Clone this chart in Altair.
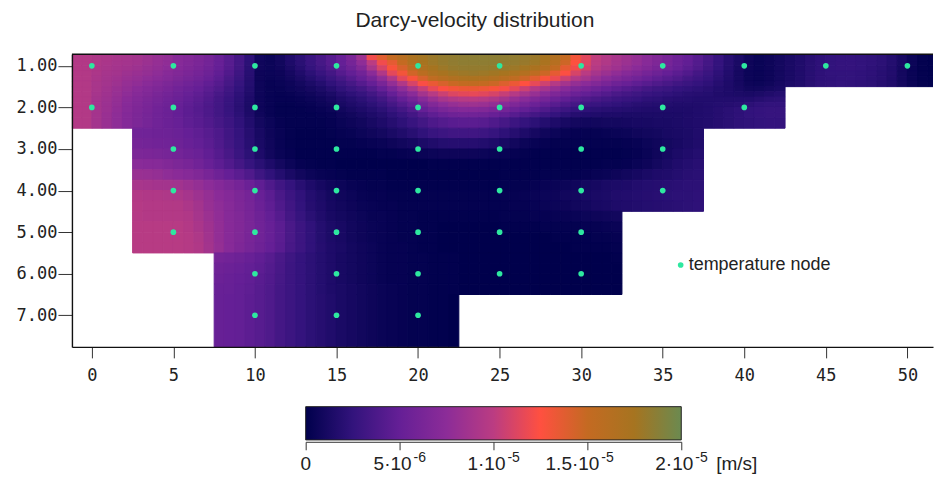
import altair as alt
import pandas as pd

TITLE = "Darcy-velocity distribution"
# value stops of the colour scale, in 1e-6 m/s
stops = [0, 2.5, 5, 7.5, 10, 12.5, 15, 17.5, 20]
colors = ["#00004c", "#32137c", "#651f96", "#8c2c98", "#bb3c82", "#ff5040", "#c46a22", "#a67420", "#6b8a50"]
x_ticks = [0, 5, 10, 15, 20, 25, 30, 35, 40, 45, 50]
y_ticks = [1, 2, 3, 4, 5, 6, 7]
node_columns = {
    1: [0, 5, 10, 15, 20, 25, 30, 35, 40, 45, 50],
    2: [0, 5, 10, 15, 20, 25, 30, 35, 40],
    3: [5, 10, 15, 20, 25, 30, 35],
    4: [5, 10, 15, 20, 25, 30, 35],
    5: [5, 10, 15, 20, 25, 30],
    6: [10, 15, 20, 25, 30],
    7: [10, 15, 20],
}
bar_ticks = [0, 5, 10, 15, 20]
bar_base = ["5·10", "1·10", "1.5·10", "2·10"]
bar_exp = ["-6", "-5", "-5", "-5"]
bar_label_at = [5, 10, 15, 20]
UNIT = "[m/s]"
KEY = "temperature node"

# estimated velocity (1e-6 m/s): (top, bottom, first column, values)
rows = [
 (.735,.875,0,[9.6,9.5, 9.3,9.2,9,8.9,8.7,8.4,8.1,7.8, 7.2,6.9,6.5,6,5.2,4.4,3.5,2.3, .9,.6,1,1.6,2.2,2.9,3.6,4.3, 5.2,6.4,8.4,12,13.8,15,16,17, 17.6,18,18.3,18.4,18.5,18.6,18.6,18.6, 18.5,18.4,18.2,18,17.5,16.6,15,13, 11.4,10.2,9.6,9,8.5,8,7.4,6.8, 6.2,5.6,5,4.3,3.6,2.8,2,1.4, .8,.5,.7,1,1.3,1.6,2,2.3, 2.5,2.6,2.6,2.5,2.4,2.2,1.8,1.2,.6,.2,.1,.1]),
 (.875,1,0,[9.6,9.5, 9.3,9.1,8.9,8.8,8.6,8.3,8,7.7, 7.1,6.8,6.4,5.9,5.1,4.3,3.4,2.2, .8,.6,.9,1.5,2.1,2.8,3.5,4.2, 5,6,7.6,10,12,13.6,15,16.4, 17.4,17.9,18.2,18.4,18.5,18.5,18.5,18.5, 18.4,18.3,18.1,17.8,17.2,16.2,14.6,12.6, 11.2,10,9.4,8.8,8.3,7.8,7.2,6.6, 6,5.4,4.8,4.1,3.4,2.6,1.9,1.3, .7,.5,.7,1,1.3,1.6,2,2.3, 2.5,2.6,2.6,2.5,2.4,2.2,1.8,1.2,.6,.2,.1,.1]),
 (1,1.125,0,[9.6,9.5, 9.2,9,8.8,8.6,8.4,8.1,7.8,7.5, 7,6.6,6.2,5.7,5,4.2,3.3,2.1, .8,.6,.8,1.3,1.9,2.6,3.2,3.9, 4.7,5.5,6.8,9,11,12.8,14.2,15.6, 16.8,17.5,17.9,18.2,18.3,18.3,18.3,18.2, 18.1,17.9,17.6,17.1,16.3,15.2,13.6,12, 10.8,9.7,9,8.5,7.9,7.4,6.8,6.2, 5.7,5.1,4.5,3.9,3.2,2.5,1.8,1.2, .7,.5,.7,1,1.3,1.6,2,2.3, 2.5,2.6,2.6,2.5,2.3,2.1,1.7,1.1,.5,.2,.1,.1]),
 (1.125,1.25,0,[9.6,9.5, 9.2,8.9,8.7,8.4,8.2,7.9,7.6,7.2, 6.8,6.4,6,5.5,4.8,4,3.1,2, .7,.6,.7,1.1,1.6,2.2,2.8,3.4, 4.2,4.9,5.8,7.4,9.4,11.5,13,14.5, 15.8,16.8,17.3,17.7,17.9,18,17.9,17.7, 17.4,17,16.4,15.6,14.7,13.6,12.4,11, 9.9,8.9,8.3,7.7,7.1,6.6,6,5.5, 5,4.5,4,3.4,2.9,2.3,1.7,1.1, .6,.5,.7,1,1.3,1.6,2,2.3, 2.5,2.5,2.5,2.4,2.3,2,1.7,1,.5,.2,.1,.1]),
 (1.25,1.375,0,[9.6,9.5, 9.1,8.8,8.5,8.2,7.9,7.6,7.3,6.9, 6.5,6.1,5.7,5.2,4.5,3.7,2.9,1.9, .7,.5,.6,.9,1.3,1.8,2.3,2.9, 3.5,4.2,5,6,7.6,9.4,11.4,12.8, 14.2,15.4,16.1,16.6,16.9,17,16.8,16.5, 16,15.4,14.6,13.8,12.8,11.8,10.6,9.6, 8.8,8,7.3,6.7,6.2,5.7,5.2,4.7, 4.3,3.9,3.4,3,2.6,2.1,1.6,1.1, .6,.5,.7,1,1.3,1.6,2,2.3, 2.4,2.5,2.5,2.4,2.2,2,1.6,1,.5,.2,.1,.1]),
 (1.375,1.5,0,[9.6,9.5, 9,8.7,8.4,8,7.7,7.3,6.9,6.5, 6.1,5.7,5.3,4.8,4.2,3.5,2.7,1.8, .7,.4,.5,.7,1,1.4,1.8,2.4, 2.9,3.5,4.2,5,6.2,7.8,9.4,11, 12.3,13.4,14.2,14.8,15.2,15.3,15.1,14.7, 14,13.3,12.5,11.6,10.7,9.7,8.8,7.9, 7.4,6.8,6.2,5.6,5.2,4.7,4.3,3.9, 3.6,3.2,2.9,2.6,2.3,1.9,1.5,1.1, .7,.6,.8,1.1,1.4,1.6,2,2.3, 2.4,2.5,2.4,2.3,2.2,1.9,1.6,1,.5,.2,.1,.1]),
 (1.5,1.625,0,[9.6,9.5, 9,8.6,8.2,7.8,7.4,7,6.6,6.2, 5.8,5.4,5,4.5,3.9,3.2,2.5,1.7, .7,.4,.4,.6,.8,1.1,1.4,1.9, 2.4,2.9,3.4,4.1,5,6.2,7.6,9, 10.4,11.6,12.4,13,13.3,13.4,13.2,12.8, 12.2,11.5,10.6,9.6,8.8,8,7.2,6.5, 6,5.5,5,4.6,4.2,3.8,3.4,3.1, 2.9,2.6,2.4,2.2,2,1.7,1.5,1.2, .9,.9,1.1,1.3]),
 (1.625,1.75,0,[9.6,9.5, 8.9,8.5,8.1,7.6,7.1,6.7,6.3,5.9, 5.5,5.1,4.7,4.2,3.6,3,2.3,1.6, .7,.4,.3,.4,.6,.8,1.1,1.4, 1.9,2.3,2.7,3.3,4,5,6.2,7.4, 8.7,9.8,10.6,11.2,11.5,11.6,11.4,11, 10.4,9.7,8.9,8.1,7.3,6.6,6,5.4, 4.9,4.5,4.1,3.7,3.4,3.1,2.8,2.6, 2.4,2.2,2,1.9,1.8,1.6,1.5,1.4, 1.3,1.4,1.6,1.8]),
 (1.75,1.875,0,[9.6,9.5, 8.8,8.4,7.9,7.4,6.9,6.5,6.1,5.7, 5.3,4.9,4.5,4,3.4,2.8,2.2,1.5, .7,.4,.3,.3,.4,.6,.8,1.1, 1.5,1.8,2.2,2.7,3.3,4.1,5,6, 7.2,8.2,9,9.5,9.8,9.9,9.7,9.3, 8.7,8,7.3,6.6,6,5.4,4.8,4.3, 3.9,3.6,3.3,3,2.8,2.6,2.3,2.2, 2,1.9,1.8,1.7,1.7,1.7,1.7,1.7, 1.7,1.9,2.1,2.2]),
 (1.875,2,0,[9.6,9.5, 8.8,8.3,7.8,7.2,6.7,6.3,5.9,5.5, 5.1,4.7,4.3,3.8,3.3,2.7,2.1,1.4, .7,.4,.2,.2,.3,.4,.6,.8, 1.2,1.5,1.8,2.2,2.7,3.4,4.1,4.9, 5.9,6.8,7.5,8,8.3,8.4,8.2,7.8, 7.2,6.6,6,5.4,4.8,4.3,3.8,3.4, 3,2.8,2.6,2.4,2.2,2,1.9,1.8, 1.7,1.6,1.6,1.6,1.7,1.8,1.9,2, 2.2,2.4,2.5,2.5]),
 (2,2.125,0,[9.6,9.5, 8.8,8.3,7.7,7.1,6.6,6.2,5.8,5.4, 5,4.6,4.2,3.8,3.3,2.7,2.1,1.4, .7,.4,.2,.2,.2,.3,.4,.6, .9,1.2,1.5,1.8,2.2,2.8,3.4,4.1, 5,5.7,6.3,6.7,7,7,6.8,6.4, 5.9,5.4,4.9,4.4,3.9,3.4,3,2.6, 2.3,2.1,2,1.9,1.8,1.7,1.6,1.6, 1.5,1.5,1.5,1.6,1.7,1.9,2.1,2.3, 2.5,2.6,2.7,2.7]),
 (2.125,2.25,0,[9.6,9.5, 8.8,8.2,7.6,7,6.5,6.1,5.7,5.4, 5,4.6,4.3,3.8,3.3,2.8,2.2,1.5, .8,.4,.2,.2,.2,.2,.3,.4, .7,.9,1.2,1.5,1.8,2.3,2.8,3.4, 4.1,4.7,5.2,5.6,5.8,5.8,5.6,5.2, 4.8,4.3,3.8,3.4,3,2.6,2.2,1.9, 1.7,1.6,1.5,1.5,1.4,1.4,1.4,1.4, 1.4,1.4,1.5,1.6,1.7,1.9,2.1,2.3, 2.5,2.6,2.7,2.7]),
 (2.25,2.5,0,[9.6,9.5, 8.8,8.2,7.6,7,6.5,6.1,5.7,5.4, 5.1,4.7,4.4,4,3.5,3,2.4,1.7, 1,.6,.3,.2,.2,.2,.2,.3, .5,.7,.9,1.2,1.5,1.9,2.3,2.8, 3.3,3.8,4.1,4.4,4.5,4.5,4.3,3.9, 3.5,3,2.6,2.2,1.8,1.5,1.2,1, .9,.9,1,1,1.1,1.2,1.2,1.3, 1.3,1.4,1.5,1.6,1.7,1.9,2.1,2.3, 2.4,2.5,2.6,2.6]),
 (2.5,2.75,6,[5.8,5.7,5.6,5.5, 5.3,5,4.7,4.3,3.8,3.2,2.6,1.9, 1.2,.7,.4,.2,.1,.1,.1,.2, .3,.4,.6,.8,1,1.3,1.6,2, 2.4,2.8,3,3.2,3.2,3.2,3,2.7, 2.3,1.9,1.5,1.1,.8,.6,.4,.3, .3,.3,.4,.5,.6,.8,.9,1, 1.2,1.3,1.4,1.6]),
 (2.75,3,6,[6,5.9,5.8,5.7, 5.5,5.2,4.9,4.5,3.9,3.3,2.7,2, 1.3,.8,.4,.2,.1,.1,.1,.1, .2,.2,.3,.4,.5,.7,.9,1.1, 1.4,1.6,1.8,1.9,1.9,1.9,1.7,1.5, 1.2,.9,.6,.4,.3,.2,.2,.2, .2,.2,.2,.2,.3,.4,.6,.8, 1,1.2,1.4,1.6]),
 (3,3.25,6,[6.5,6.4,6.3,6.1, 5.9,5.6,5.3,4.8,4.2,3.6,2.9,2.2, 1.5,.9,.5,.3,.1,.1,.1,.1, .1,.1,.1,.1,.2,.2,.3,.4, .5,.6,.7,.7,.7,.7,.6,.5, .4,.3,.2,.1,.1,.1,.1,.1, .1,.1,.1,.1,.2,.3,.5,.8, 1.1,1.4,1.6,1.8]),
 (3.25,3.5,6,[7.3,7.2,7.1,6.8, 6.5,6.2,5.8,5.2,4.6,4,3.4,2.7, 2.1,1.5,1,.6,.3,.2,.1,.1, 0,0,0,0,0,0,0,0, 0,.1,.1,.1,.1,.1,.1,.1, .1,.1,.1,.1,.1,.1,.1,.1, .1,.1,.2,.2,.3,.5,.7,1, 1.3,1.6,1.8,2]),
 (3.5,3.75,6,[8.2,8.1,7.9,7.6, 7.4,7.1,6.7,6.2,5.6,5,4.5,3.9, 3.1,2.4,1.8,1.3,.9,.6,.4,.3, .2,.1,.1,.1,.1,0,0,0, 0,0,0,0,0,0,0,0, .1,.1,.1,.1,.2,.2,.2,.2, .3,.4,.5,.7,.9,1.1,1.3,1.5, 1.6,1.8,2,2.1]),
 (3.75,4,6,[9,8.9,8.8,8.7, 8.6,8.3,7.9,7.5,7,6.5,6,5.4, 4.7,3.9,3.2,2.6,2,1.5,1.1,.8, .6,.4,.3,.2,.2,.1,.1,.1, .1,.1,.1,.1,.1,.1,.1,.1, .2,.2,.2,.3,.4,.5,.6,.8, 1,1.1,1.3,1.4,1.5,1.7,1.8,1.9, 2,2.1,2.2,2.2]),
 (4,4.25,6,[9.5,9.4,9.4,9.3, 9.2,8.9,8.4,7.9,7.4,7,6.5,6, 5.2,4.5,3.7,3,2.4,1.8,1.4,1, .8,.6,.4,.3,.3,.2,.2,.2, .2,.2,.2,.2,.2,.2,.2,.2, .3,.3,.4,.5,.6,.7,.9,1, 1.2,1.3,1.4,1.6,1.7,1.8,1.9,2, 2.1,2.2,2.2,2.3]),
 (4.25,4.5,6,[9.7,9.6,9.6,9.5, 9.5,9.2,8.7,8.1,7.6,7.1,6.6,6.1, 5.4,4.7,3.9,3.2,2.5,1.9,1.5,1.1, .9,.7,.5,.4,.3,.3,.2,.2, .2,.2,.2,.2,.2,.2,.2,.2, .2,.3,.3,.4,.5,.6,.7,.9, 1,1.2,1.3,1.5,1.6,1.7,1.8,1.9, 2,2.1,2.2,2.3]),
 (4.5,4.75,6,[9.7,9.6,9.6,9.6, 9.6,9.4,8.9,8.3,7.7,7.1,6.7,6.2, 5.6,4.9,4.2,3.4,2.7,2.1,1.6,1.2, 1,.8,.6,.4,.4,.3,.2,.2, .1,.1,.1,.1,.1,.1,.1,.1, .2,.2,.2,.3,.3,.4,.4,.5, .6,.7,.8,.9]),
 (4.75,5,6,[9.8,9.8,9.8,9.8, 9.8,9.6,9.1,8.5,7.8,7.2,6.8,6.3, 5.7,5.1,4.5,3.7,3,2.4,1.8,1.4, 1.2,.9,.7,.5,.4,.3,.2,.2, .1,.1,0,0,0,0,0,0, .1,.1,.1,.1,.2,.2,.2,.2, .3,.3,.4,.5]),
 (5,5.25,6,[9.8,9.8,9.8,9.8, 9.8,9.7,9.3,8.6,7.8,7.2,6.7,6.2, 5.7,5.1,4.5,3.7,3,2.4,1.8,1.4, 1.2,.9,.7,.5,.4,.3,.2,.2, .1,.1,0,0,0,0,0,0, 0,0,0,0,0,.1,.1,.1, .1,.2,.2,.3]),
 (5.25,5.5,6,[9.8,9.8,9.8,9.8, 9.8,9.7,9.4,8.7,7.9,7.2,6.6,6.1, 5.6,5,4.4,3.6,3,2.4,1.9,1.5, 1.3,1,.8,.6,.4,.3,.3,.2, .1,.1,0,0,0,0,0,0, 0,0,0,0,0,0,0,.1, .1,.1,.1,.2]),
 (5.5,5.75,14,[6,5.8,5.5,5.2, 4.8,4.3,3.7,3.1,2.6,2.2,1.8,1.5, 1.2,1,.8,.6,.4,.3,.3,.2, .2,.1,.1,.1,0,0,0,0, 0,0,0,0,0,0,0,0, 0,0,0,.1]),
 (5.75,6,14,[5.6,5.4,5.2,4.9, 4.6,4.1,3.6,3,2.6,2.2,1.8,1.5, 1.2,1,.8,.6,.4,.3,.3,.2, .2,.1,.1,.1,0,0,0,0, 0,0,0,0,0,0,0,0, 0,0,0,0]),
 (6,6.25,14,[5.4,5.2,5,4.8, 4.4,4,3.5,3,2.6,2.2,1.8,1.5, 1.2,1,.8,.6,.4,.3,.3,.2, .2,.1,.1,.1,0,0,0,0, 0,0,0,0,0,0,0,0, 0,0,0,0]),
 (6.25,6.5,14,[5.2,5.1,4.9,4.7, 4.3,3.9,3.4,3,2.6,2.2,1.8,1.5, 1.3,1.1,.9,.7,.5,.4,.3,.2, .2,.1,.1,.1,0,0,0,0, 0,0,0,0,0,0,0,0, 0,0,0,0]),
 (6.5,7.76,14,[5.1,5,4.9,4.6, 4.3,3.9,3.4,3,2.6,2.2,1.9,1.6, 1.3,1.1,.9,.7,.5,.4,.3,.2, .2,.1,.1,0]),
]
CELL_W = 0.625
SANS = "Liberation Sans"
MONO = "DejaVu Sans Mono"
AXIS = dict(domainColor="#111", domainWidth=1.4, tickColor="#333", labelColor="#222", labelFont=MONO,
            labelFontSize=17, grid=False, title=None, zindex=1, labelOverlap=False, labelFlush=False)

cells = []
for y0, y1, first, vals in rows:
    for i, v in enumerate(vals):
        x0 = -1.25 + (first + i) * CELL_W
        cells.append(dict(x=x0, x2=x0 + CELL_W, y=y0, y2=y1, v=v))
cells = pd.DataFrame(cells)
nodes = pd.DataFrame([dict(x=x, y=y) for y, xs in node_columns.items() for x in xs])

xs = alt.Scale(domain=[-1.22, 51.57], nice=False, zero=False)
ys = alt.Scale(domain=[7.76, 0.72], nice=False, zero=False)
cs = alt.Scale(domain=stops, range=colors, interpolate="rgb", clamp=True)
DOT = dict(filled=True, size=32, color="#2ee8a0", opacity=1)

heat = alt.Chart(cells).mark_rect(clip=True, strokeWidth=1).encode(
    x=alt.X("x:Q", scale=xs, axis=alt.Axis(values=x_ticks, format="d", tickSize=11, labelPadding=10, **AXIS)),
    x2="x2:Q",
    y=alt.Y("y:Q", scale=ys, axis=alt.Axis(values=y_ticks, format=".2f", tickSize=14, labelPadding=1, **AXIS)),
    y2="y2:Q",
    color=alt.Color("v:Q", scale=cs, legend=None),
    stroke=alt.Stroke("v:Q", scale=cs, legend=None),
)
top_line = alt.Chart(pd.DataFrame(dict(y=[0.72]))).mark_rule(color="#111", strokeWidth=1.4).encode(
    y=alt.Y("y:Q", scale=ys))
pts = alt.Chart(nodes).mark_point(clip=True, **DOT).encode(
    x=alt.X("x:Q", scale=xs), y=alt.Y("y:Q", scale=ys))
key_df = pd.DataFrame(dict(x=[36.1], y=[5.79], t=[KEY]))
key_pt = alt.Chart(key_df).mark_point(**DOT).encode(x=alt.X("x:Q", scale=xs), y=alt.Y("y:Q", scale=ys))
key_tx = alt.Chart(key_df).mark_text(align="left", dx=8, font=SANS, fontSize=18, color="#222").encode(
    x=alt.X("x:Q", scale=xs), y=alt.Y("y:Q", scale=ys), text="t:N")
main = alt.layer(heat, top_line, pts, key_pt, key_tx).properties(width=862, height=293)

grad = alt.Gradient(gradient="linear", x1=0, x2=1, y1=0, y2=0,
                    stops=[alt.GradientStop(offset=s / 20, color=c) for s, c in zip(stops, colors)])
bs = alt.Scale(domain=[0, 20], nice=False)
bar = alt.Chart(pd.DataFrame(dict(a=[0], b=[20]))).mark_bar(fill=grad, stroke="#222", strokeWidth=1).encode(
    x=alt.X("a:Q", scale=bs, axis=alt.Axis(values=bar_ticks, labels=False, domainColor="#333",
                                            tickColor="#333", tickSize=8, grid=False, title=None)),
    x2="b:Q",
).properties(width=376, height=37)
lab_df = pd.DataFrame(dict(x=bar_label_at, base=bar_base, exp=bar_exp))
TXT = dict(font=SANS, color="#222", baseline="alphabetic")
zero_tx = alt.Chart(pd.DataFrame(dict(x=[0], t=["0"]))).mark_text(align="center", fontSize=19, **TXT).encode(
    x=alt.X("x:Q", scale=bs), y=alt.value(65), text="t:N")
base_tx = alt.Chart(lab_df).mark_text(align="right", dx=12, fontSize=19, **TXT).encode(
    x=alt.X("x:Q", scale=bs), y=alt.value(65), text="base:N")
exp_tx = alt.Chart(lab_df).mark_text(align="left", dx=14, fontSize=14, **TXT).encode(
    x=alt.X("x:Q", scale=bs), y=alt.value(57), text="exp:N")
unit_tx = alt.Chart(pd.DataFrame(dict(x=[20], t=[UNIT]))).mark_text(align="left", dx=35, fontSize=19, **TXT).encode(
    x=alt.X("x:Q", scale=bs), y=alt.value(65), text="t:N")
spacer = alt.Chart(pd.DataFrame(dict(a=[0]))).mark_point(opacity=0).encode(
    x=alt.X("a:Q", axis=None), y=alt.Y("a:Q", axis=None)).properties(width=228, height=37)
bottom = alt.hconcat(spacer, alt.layer(bar, zero_tx, base_tx, exp_tx, unit_tx), spacing=0)

chart = alt.vconcat(main, bottom, spacing=21).properties(
    padding=dict(left=8, right=0, top=1, bottom=0),
    title=alt.TitleParams(TITLE, font=SANS, fontSize=21, fontWeight="normal", color="#222", anchor="middle", offset=22.5),
).configure_view(stroke=None)
chart.save("out.html", embed_options={"renderer": "svg", "actions": False})
